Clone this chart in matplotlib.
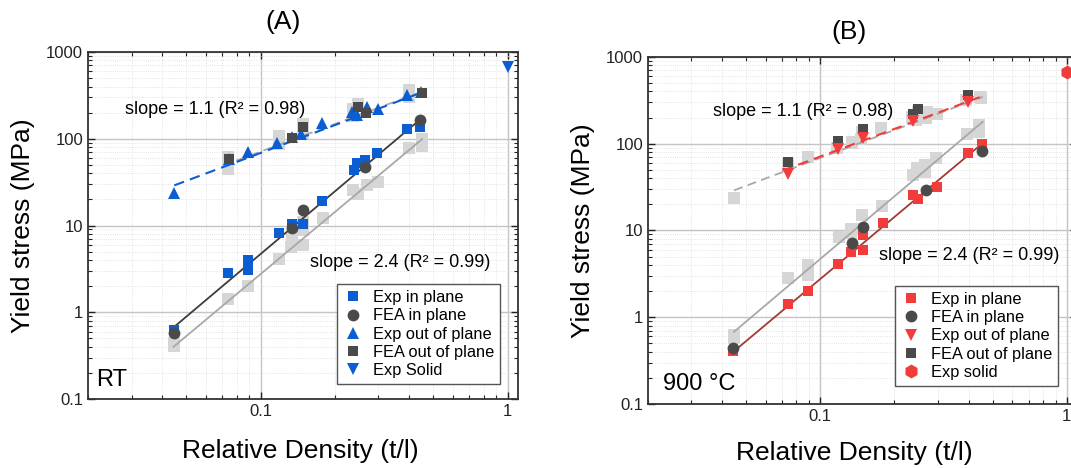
import numpy as np
import matplotlib
matplotlib.use("Agg")
import matplotlib.pyplot as plt
from matplotlib.ticker import FixedLocator, FixedFormatter, LogLocator, NullFormatter

plt.rcParams['font.family'] = ['Liberation Sans', 'DejaVu Sans']

# ---- Panel A (RT) data ----
a_exp_in_x = [0.0447, 0.0740, 0.0889, 0.0889, 0.1186, 0.1334, 0.148, 0.178, 0.238, 0.246, 0.265, 0.296, 0.393, 0.442]
a_exp_in_y = [0.62, 2.85, 4.0, 3.06, 8.3, 10.4, 10.4, 19.3, 43.5, 52.8, 56.7, 67.7, 131, 135]
a_fea_in_x = [0.0447, 0.1334, 0.148, 0.265, 0.442]
a_fea_in_y = [0.58, 9.25, 15.0, 46.7, 164]
a_exp_out_x = [0.0447, 0.0743, 0.0892, 0.117, 0.1346, 0.146, 0.177, 0.235, 0.245, 0.27, 0.298, 0.391, 0.446]
a_exp_out_y = [23.4, 59, 70, 90, 105, 114, 150, 204, 190, 233, 218, 318, 347]
a_fea_out_x = [0.0743, 0.1346, 0.148, 0.248, 0.268, 0.45]
a_fea_out_y = [57.8, 101, 137, 233, 199, 333]
a_solid_x = [1.0]
a_solid_y = [663]
a_fit_in_x = [0.0447, 0.456]
a_fit_in_y = [0.68, 179]
a_fit_out_x = [0.0447, 0.456]
a_fit_out_y = [29, 347]

# ---- Panel B (900 C) data ----
b_exp_in_x = [0.0444, 0.0741, 0.0888, 0.1184, 0.1333, 0.1486, 0.1486, 0.179, 0.2375, 0.249, 0.2985, 0.398, 0.451]
b_exp_in_y = [0.41, 1.41, 1.99, 4.14, 5.6, 5.9, 8.8, 12.1, 25.9, 23.1, 31.5, 77.4, 99]
b_fea_in_x = [0.0444, 0.134, 0.1486, 0.269, 0.451]
b_fea_in_y = [0.437, 7.15, 11.1, 29.4, 83]
b_exp_out_x = [0.0741, 0.1184, 0.1486, 0.2375, 0.398]
b_exp_out_y = [44.8, 87, 116, 184, 304]
b_fea_out_x = [0.0741, 0.1184, 0.1486, 0.2375, 0.249, 0.398]
b_fea_out_y = [61, 108, 148, 219, 250, 366]
b_solid_x = [1.0]
b_solid_y = [673]
b_fit_in_x = [0.0444, 0.451]
b_fit_in_y = [0.40, 99]
b_fit_out_x = [0.0703, 0.458]
b_fit_out_y = [49, 356]

labels_a = ["Exp in plane", "FEA in plane", "Exp out of plane", "FEA out of plane", "Exp Solid"]
labels_b = ["Exp in plane", "FEA in plane", "Exp out of plane", "FEA out of plane", "Exp solid"]

BLUE = "#0a5ed2"
RED = "#f23b3b"
DARK = "#4a4a4a"
LIGHT = "#d6d6d6"


def style_axes(ax):
    ax.set_xscale('log')
    ax.set_yscale('log')
    ax.set_xlim(0.02, 1.1)
    ax.set_ylim(0.1, 1000)
    ax.xaxis.set_major_locator(FixedLocator([0.1, 1]))
    ax.xaxis.set_major_formatter(FixedFormatter(["0.1", "1"]))
    ax.yaxis.set_major_locator(FixedLocator([0.1, 1, 10, 100, 1000]))
    ax.yaxis.set_major_formatter(FixedFormatter(["0.1", "1", "10", "100", "1000"]))
    for axis in (ax.xaxis, ax.yaxis):
        axis.set_minor_locator(LogLocator(base=10, subs=np.arange(2, 10), numticks=20))
        axis.set_minor_formatter(NullFormatter())
    ax.grid(which='major', color='#c4c4c4', lw=1.0, ls='-')
    ax.grid(which='minor', color='#dcdcdc', lw=0.6, ls=':')
    ax.set_axisbelow(True)
    ax.tick_params(which='both', direction='in', top=True, right=True, labelsize=12, colors='#222222')
    ax.tick_params(which='major', length=5, width=1.0)
    ax.tick_params(which='minor', length=3, width=0.8)
    for s in ax.spines.values():
        s.set_color('#333333')
        s.set_linewidth(1.3)


def draw_grey(ax, sets, fit_in, fit_out):
    # the other panel's results, shown in light grey for comparison
    ax.plot(fit_in[0], fit_in[1], color='#a8a8a8', lw=1.3, zorder=2)
    ax.plot(fit_out[0], fit_out[1], color='#a8a8a8', lw=1.3, ls=(0, (5, 3)), zorder=2)
    for x, y in sets:
        ax.plot(x, y, 's', color=LIGHT, ms=8, mew=0, zorder=1.5)


fig = plt.figure(figsize=(10.71, 4.68), dpi=100)
axA = fig.add_axes([0.0822, 0.1474, 0.4012, 0.7415])
axB = fig.add_axes([0.605, 0.1368, 0.4006, 0.7415])

# Panel A
style_axes(axA)
draw_grey(axA, [(b_exp_in_x, b_exp_in_y), (b_fea_in_x, b_fea_in_y),
                (b_exp_out_x, b_exp_out_y), (b_fea_out_x, b_fea_out_y)],
          (b_fit_in_x, b_fit_in_y), (b_fit_out_x, b_fit_out_y))
axA.plot(a_fit_in_x, a_fit_in_y, color='#3c3c3c', lw=1.3, zorder=3)
axA.plot(a_fit_out_x, a_fit_out_y, color=BLUE, lw=1.5, ls=(0, (5, 3)), zorder=3)
hA = []
hA += axA.plot(a_exp_in_x, a_exp_in_y, 's', color=BLUE, ms=7.5, mew=0, zorder=4, label=labels_a[0])
hA += axA.plot(a_fea_in_x, a_fea_in_y, 'o', color=DARK, ms=8.5, mew=0, zorder=5, label=labels_a[1])
hA += axA.plot(a_exp_out_x, a_exp_out_y, '^', color=BLUE, ms=9, mew=0, zorder=4, label=labels_a[2])
hA += axA.plot(a_fea_out_x, a_fea_out_y, 's', color=DARK, ms=7.5, mew=0, zorder=5, label=labels_a[3])
hA += axA.plot(a_solid_x, a_solid_y, 'v', color=BLUE, ms=9, mew=0, zorder=5, label=labels_a[4], clip_on=False)
legA = axA.legend(handles=hA, loc='lower right', bbox_to_anchor=(0.977, 0.02), fontsize=11.8,
                  labelspacing=0.2, handletextpad=0.6, handlelength=1.2, borderpad=0.35,
                  fancybox=False, framealpha=1, edgecolor='#555555')
legA.get_frame().set_linewidth(1.0)
axA.text(0.086, 0.833, "slope = 1.1 (R² = 0.98)", transform=axA.transAxes, fontsize=13, va='center')
axA.text(0.517, 0.392, "slope = 2.4 (R² = 0.99)", transform=axA.transAxes, fontsize=13, va='center')
axA.text(0.019, 0.055, "RT", transform=axA.transAxes, fontsize=17, va='center')
axA.set_ylabel("Yield stress (MPa)", fontsize=19)
axA.set_xlabel("Relative Density (t/l)", fontsize=19)
axA.yaxis.set_label_coords(-0.123, 0.5)
axA.xaxis.set_label_coords(0.493, -0.115)

# Panel B
style_axes(axB)
draw_grey(axB, [(a_exp_in_x, a_exp_in_y), (a_fea_in_x, a_fea_in_y),
                (a_exp_out_x, a_exp_out_y), (a_fea_out_x, a_fea_out_y)],
          (a_fit_in_x, a_fit_in_y), (a_fit_out_x, a_fit_out_y))
axB.plot(b_fit_in_x, b_fit_in_y, color='#a23a32', lw=1.3, zorder=3)
axB.plot(b_fit_out_x, b_fit_out_y, color=RED, lw=1.5, ls=(0, (5, 3)), zorder=3)
hB = []
hB += axB.plot(b_exp_in_x, b_exp_in_y, 's', color=RED, ms=7.5, mew=0, zorder=4, label=labels_b[0])
hB += axB.plot(b_fea_in_x, b_fea_in_y, 'o', color=DARK, ms=8.5, mew=0, zorder=5, label=labels_b[1])
hB += axB.plot(b_exp_out_x, b_exp_out_y, 'v', color=RED, ms=9, mew=0, zorder=5, label=labels_b[2])
hB += axB.plot(b_fea_out_x, b_fea_out_y, 's', color=DARK, ms=7.5, mew=0, zorder=4, label=labels_b[3])
hB += axB.plot(b_solid_x, b_solid_y, 'h', color=RED, ms=10, mew=0, zorder=5, label=labels_b[4], clip_on=False)
legB = axB.legend(handles=hB, loc='lower right', bbox_to_anchor=(0.974, 0.029), fontsize=11.8,
                  labelspacing=0.2, handletextpad=0.6, handlelength=1.2, borderpad=0.35,
                  fancybox=False, framealpha=1, edgecolor='#555555')
legB.get_frame().set_linewidth(1.0)
axB.text(0.151, 0.844, "slope = 1.1 (R² = 0.98)", transform=axB.transAxes, fontsize=13, va='center')
axB.text(0.538, 0.429, "slope = 2.4 (R² = 0.99)", transform=axB.transAxes, fontsize=13, va='center')
axB.text(0.034, 0.058, "900 °C", transform=axB.transAxes, fontsize=17, va='center')
axB.set_ylabel("Yield stress (MPa)", fontsize=19)
axB.set_xlabel("Relative Density (t/l)", fontsize=19)
axB.yaxis.set_label_coords(-0.123, 0.5)
axB.xaxis.set_label_coords(0.482, -0.106)

fig.text(0.264, 0.953, "(A)", fontsize=19, ha='center', va='center')
fig.text(0.793, 0.932, "(B)", fontsize=19, ha='center', va='center')

fig.savefig("out.png", dpi=100)
